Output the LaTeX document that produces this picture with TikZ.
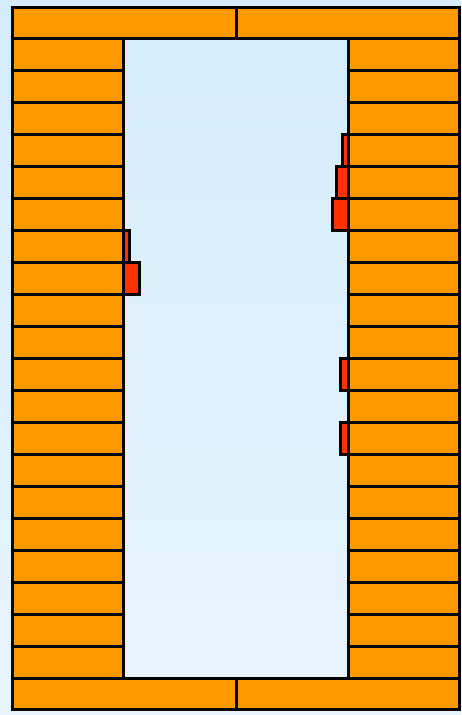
\documentclass[tikz,border=0pt]{standalone}
\usepackage{tikz}
\definecolor{brickorange}{RGB}{255,153,0}
\definecolor{bumpred}{RGB}{255,51,0}
\definecolor{skytop}{RGB}{212,236,252}
\definecolor{skymid}{RGB}{190,229,253}
\definecolor{skybot}{RGB}{232,245,253}
\tikzset{
  brick/.style={fill=brickorange, draw=black, line width=3pt},
  bump/.style={fill=bumpred, draw=black, line width=3pt},
}

\begin{document}
\begin{tikzpicture}[x=1pt, y=-1pt]
        % background, fixes the page size
        \shade[top color=skytop, middle color=skymid, bottom color=skybot] (0,0) rectangle (461,715);
        \useasboundingbox (0,0) rectangle (461,715);

        % red bumps on the inner faces
        \draw[bump] (342,134) rectangle (348,166);
        \draw[bump] (336,166) rectangle (348,198);
        \draw[bump] (332,198) rectangle (348,230);
        \draw[bump] (340,358) rectangle (348,390);
        \draw[bump] (340,422) rectangle (348,454);
        \draw[bump] (123,230) rectangle (129,262);
        \draw[bump] (123,262) rectangle (139,294);

        % side walls
        \foreach \r in {0,...,19} {
          \draw[brick] (12,38+32*\r) rectangle (123,70+32*\r);
          \draw[brick] (348,38+32*\r) rectangle (459,70+32*\r);
        }

        % top and bottom courses
        \draw[brick] (12,7) rectangle (236,38);
        \draw[brick] (236,7) rectangle (459,38);
        \draw[brick] (12,678) rectangle (236,709);
        \draw[brick] (236,678) rectangle (459,709);
\end{tikzpicture}
\end{document}
